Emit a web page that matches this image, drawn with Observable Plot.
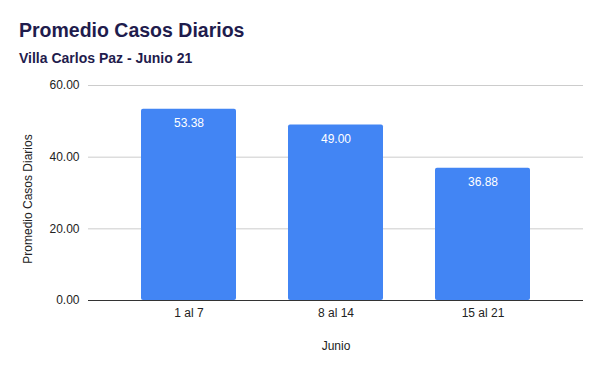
<!DOCTYPE html>
<html><head><meta charset="utf-8">
<script src="https://cdn.jsdelivr.net/npm/d3@7"></script>
<script src="https://cdn.jsdelivr.net/npm/@observablehq/plot@0.6"></script>
<style>
body{margin:0;background:#fff;font-family:"Liberation Sans",Arial,sans-serif;}
#wrap{width:600px;height:371px;position:relative;}
#title{position:absolute;left:19px;top:19px;font-size:19.5px;font-weight:bold;color:#1f1c4d;}
#subtitle{position:absolute;left:19px;top:50px;font-size:14px;font-weight:bold;color:#1f1c4d;}
#chart{position:absolute;left:0;top:75px;}
</style></head>
<body><div id="wrap"><div id="title">Promedio Casos Diarios</div><div id="subtitle">Villa Carlos Paz - Junio 21</div><div id="chart"></div></div>
<script>
const categories = ["1 al 7", "8 al 14", "15 al 21"];
const values = [53.38, 49.00, 36.88];
const yTicks = [0, 20, 40, 60];
const data = categories.map((c, i) => ({cat: c, val: values[i]}));
const plot = Plot.plot({
  width: 600, height: 296,
  marginLeft: 88, marginRight: 17, marginTop: 10, marginBottom: 71,
  style: {fontFamily: "'Liberation Sans', Arial, sans-serif", fontSize: "12px", color: "#222", overflow: "visible"},
  x: {domain: categories, paddingInner: 0.354, paddingOuter: 0.357, label: null, tickSize: 0, tickPadding: 8},
  y: {domain: [0, 60], ticks: yTicks, tickFormat: d => d.toFixed(2), label: null, tickSize: 0, tickPadding: 9},
  marks: [
    Plot.gridY(yTicks, {stroke: "#ccc", strokeOpacity: 1}),
    Plot.barY(data, {x: "cat", y: "val", fill: "#4285f4", rx: 2}),
    Plot.ruleY([0], {stroke: "#333"}),
    Plot.text(data, {x: "cat", y: "val", text: d => d.val.toFixed(2), dy: 14, fill: "white", fontSize: 12}),
    Plot.axisX({tickSize: 0, tickPadding: 8, label: null, fontSize: 12}),
    Plot.axisY(yTicks, {tickSize: 0, tickPadding: 9, tickFormat: d => d.toFixed(2), label: null, fontSize: 12}),
    Plot.text(["Junio"], {frameAnchor: "bottom", dy: 49, fontSize: 12, fill: "#222"}),
    Plot.text(["Promedio Casos Diarios"], {frameAnchor: "left", textAnchor: "middle", dx: -60, dy: 6, rotate: -90, fontSize: 12, fill: "#222"})
  ]
});
document.getElementById("chart").appendChild(plot);
</script></body></html>
